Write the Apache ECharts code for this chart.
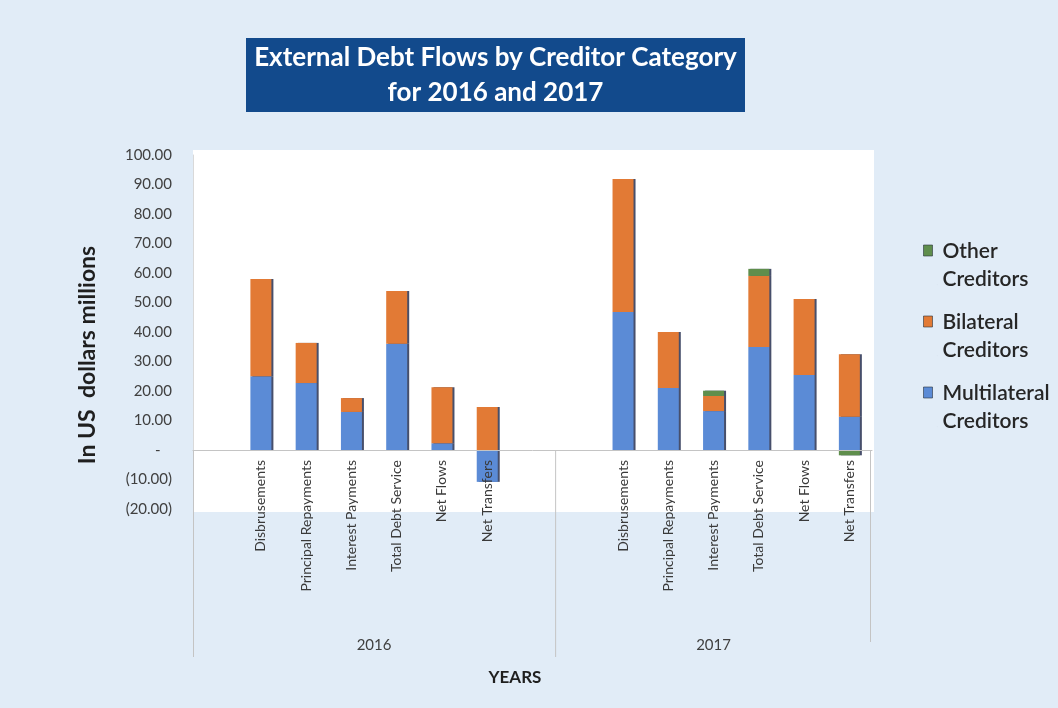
<!DOCTYPE html>
<html>
<head>
<meta charset="utf-8">
<script src="https://cdn.jsdelivr.net/npm/echarts@6/dist/echarts.min.js"></script>
<style>
  html, body { margin: 0; padding: 0; background: #e1ecf7; }
  #chart { width: 1058px; height: 708px; }
</style>
</head>
<body>
<div id="chart"></div>
<script>
// Flow categories shown for each year
const flowCategories = ['Disbrusements', 'Principal Repayments', 'Interest Payments', 'Total Debt Service', 'Net Flows', 'Net Transfers'];
const years = ['2016', '2017'];

// Values in US dollars millions, per creditor category
const multilateral2016 = [25.0, 22.7, 12.9, 36.0, 2.3, -10.8];
const bilateral2016    = [33.0, 13.6, 4.7, 17.9, 19.0, 14.6];
const other2016        = [0, 0, 0, 0, 0, 0];

const multilateral2017 = [46.8, 21.0, 13.2, 34.9, 25.4, 11.3];
const bilateral2017    = [45.1, 19.0, 5.1, 24.1, 25.8, 21.2];
const other2017        = [0, 0, 1.8, 2.4, 0, -1.8];

// Axis layout: each year group has an empty slot before its flows, 2016 also one after
const slotKeys = [];
const yearOfSlot = [];
function addSlot(year, name) { slotKeys.push(year + '|' + name + '|' + slotKeys.length); yearOfSlot.push(year); }
addSlot(years[0], '');
flowCategories.forEach(c => addSlot(years[0], c));
addSlot(years[0], '');
addSlot(years[1], '');
flowCategories.forEach(c => addSlot(years[1], c));

function spread(vals2016, vals2017) {
  return [null, ...vals2016, null, null, ...vals2017];
}

const fontFamily = 'Lato, "Open Sans", sans-serif';
const barStyle = (color) => ({
  color: color,
  shadowColor: 'rgba(25,35,70,0.8)',
  shadowOffsetX: 2,
  shadowOffsetY: 0,
  shadowBlur: 0
});

function fmtAxis(v) {
  if (v === 0) return '-   ';
  if (v < 0) return '(' + Math.abs(v).toFixed(2) + ')';
  return v.toFixed(2);
}

const chart = echarts.init(document.getElementById('chart'), null, { renderer: 'canvas' });

const option = {
  animation: false,
  backgroundColor: '#e1ecf7',
  textStyle: { fontFamily: fontFamily },
  grid: { left: 193, right: 186, top: 155, bottom: 199, containLabel: false },
  legend: {
    orient: 'vertical',
    left: 918,
    top: 232,
    itemGap: 15,
    itemWidth: 14,
    itemHeight: 40,
    icon: 'path://M0,0h9v11h-9z M14,40h0.01v0.01z',
    data: ['Other Creditors', 'Bilateral Creditors', 'Multilateral Creditors'],
    formatter: (name) => name.replace(' ', '\n'),
    itemStyle: { shadowBlur: 0, shadowOffsetX: 0, shadowColor: 'rgba(0,0,0,0)', borderColor: 'rgba(40,50,60,0.6)', borderWidth: 1 },
    textStyle: { fontFamily: fontFamily, fontSize: 21, lineHeight: 28, fontWeight: 600, color: '#262626', padding: [0, 0, 0, 0] }
  },
  xAxis: {
    type: 'category',
    z: 10,
    data: slotKeys,
    axisTick: { show: false },
    axisLine: { onZero: true, lineStyle: { color: '#c4c4c4', width: 1 } },
    axisLabel: {
      interval: 0,
      rotate: 90,
      margin: -49,
      fontSize: 14,
      color: '#3a3a3a',
      fontFamily: fontFamily,
      formatter: (key) => key.split('|')[1]
    },
    splitLine: { show: false }
  },
  yAxis: {
    type: 'value',
    min: -20,
    max: 100,
    interval: 10,
    axisLine: { show: true, lineStyle: { color: '#d9d9d9' } },
    axisTick: { show: false },
    splitLine: { show: false },
    axisLabel: { margin: 21, fontSize: 15, color: '#404040', fontFamily: fontFamily, formatter: fmtAxis }
  },
  series: [
    {
      name: 'Multilateral Creditors', type: 'bar', stack: 'flows', barWidth: 21,
      itemStyle: barStyle('#5b8bd6'),
      data: spread(multilateral2016, multilateral2017)
    },
    {
      name: 'Bilateral Creditors', type: 'bar', stack: 'flows', barWidth: 21,
      itemStyle: barStyle('#e27a35'),
      data: spread(bilateral2016, bilateral2017)
    },
    {
      name: 'Other Creditors', type: 'bar', stack: 'flows', barWidth: 21,
      itemStyle: barStyle('#5f8e4c'),
      data: spread(other2016, other2017)
    }
  ]
};

chart.setOption(option);

// Decorations placed from the axis scales: plot panel, year separators, group labels, titles
function decorate() {
  const c0 = chart.convertToPixel({ xAxisIndex: 0 }, 0);
  const c1 = chart.convertToPixel({ xAxisIndex: 0 }, 1);
  const band = c1 - c0;
  const edge = (i) => chart.convertToPixel({ xAxisIndex: 0 }, i) - band / 2;
  const yTop = chart.convertToPixel({ yAxisIndex: 0 }, 100);
  const yBottom = chart.convertToPixel({ yAxisIndex: 0 }, -20);
  const yZero = chart.convertToPixel({ yAxisIndex: 0 }, 0);

  const firstOf2017 = yearOfSlot.indexOf(years[1]);
  const left = edge(0);
  const mid = edge(firstOf2017);
  const right = edge(slotKeys.length);
  const lineBottom = 657;
  const sepStyle = { stroke: '#c4c4c4', lineWidth: 1 };

  chart.setOption({
    graphic: [
      {
        type: 'rect', z: -10, silent: true,
        shape: { x: left, y: yTop - 5, width: right - left + 2, height: yBottom - yTop + 8 },
        style: { fill: '#ffffff' }
      },
      { type: 'line', z: 1, silent: true, shape: { x1: left + 0.5, y1: yZero, x2: left + 0.5, y2: lineBottom }, style: sepStyle },
      { type: 'line', z: 1, silent: true, shape: { x1: mid + 0.5, y1: yZero, x2: mid + 0.5, y2: lineBottom }, style: sepStyle },
      { type: 'line', z: 1, silent: true, shape: { x1: right - 1.5, y1: yZero, x2: right - 1.5, y2: lineBottom - 15 }, style: sepStyle },
      {
        type: 'text', z: 5, silent: true, x: (left + mid) / 2, y: 645,
        style: { text: years[0], fill: '#404040', font: '15px ' + fontFamily, textAlign: 'center', textVerticalAlign: 'middle' }
      },
      {
        type: 'text', z: 5, silent: true, x: (mid + right) / 2, y: 645,
        style: { text: years[1], fill: '#404040', font: '15px ' + fontFamily, textAlign: 'center', textVerticalAlign: 'middle' }
      },
      {
        type: 'text', z: 5, silent: true, x: 515, y: 678,
        style: { text: 'YEARS', fill: '#1f1f1f', font: 'bold 17px ' + fontFamily, textAlign: 'center', textVerticalAlign: 'middle' }
      },
      {
        type: 'text', z: 5, silent: true, x: 88, y: 355, rotation: Math.PI / 2,
        style: { text: 'In US  dollars millions', fill: '#1f1f1f', font: 'bold 23px ' + fontFamily, textAlign: 'center', textVerticalAlign: 'middle' }
      },
      {
        type: 'rect', z: 5, silent: true,
        shape: { x: 246, y: 38, width: 499, height: 74 },
        style: { fill: '#124a8c' }
      },
      {
        type: 'text', z: 6, silent: true, x: 495.5, y: 75,
        style: {
          text: 'External Debt Flows by Creditor Category\nfor 2016 and 2017',
          fill: '#ffffff', font: 'bold 26px ' + fontFamily, lineHeight: 35,
          textAlign: 'center', textVerticalAlign: 'middle'
        }
      }
    ]
  });
}
decorate();
</script>
</body>
</html>
